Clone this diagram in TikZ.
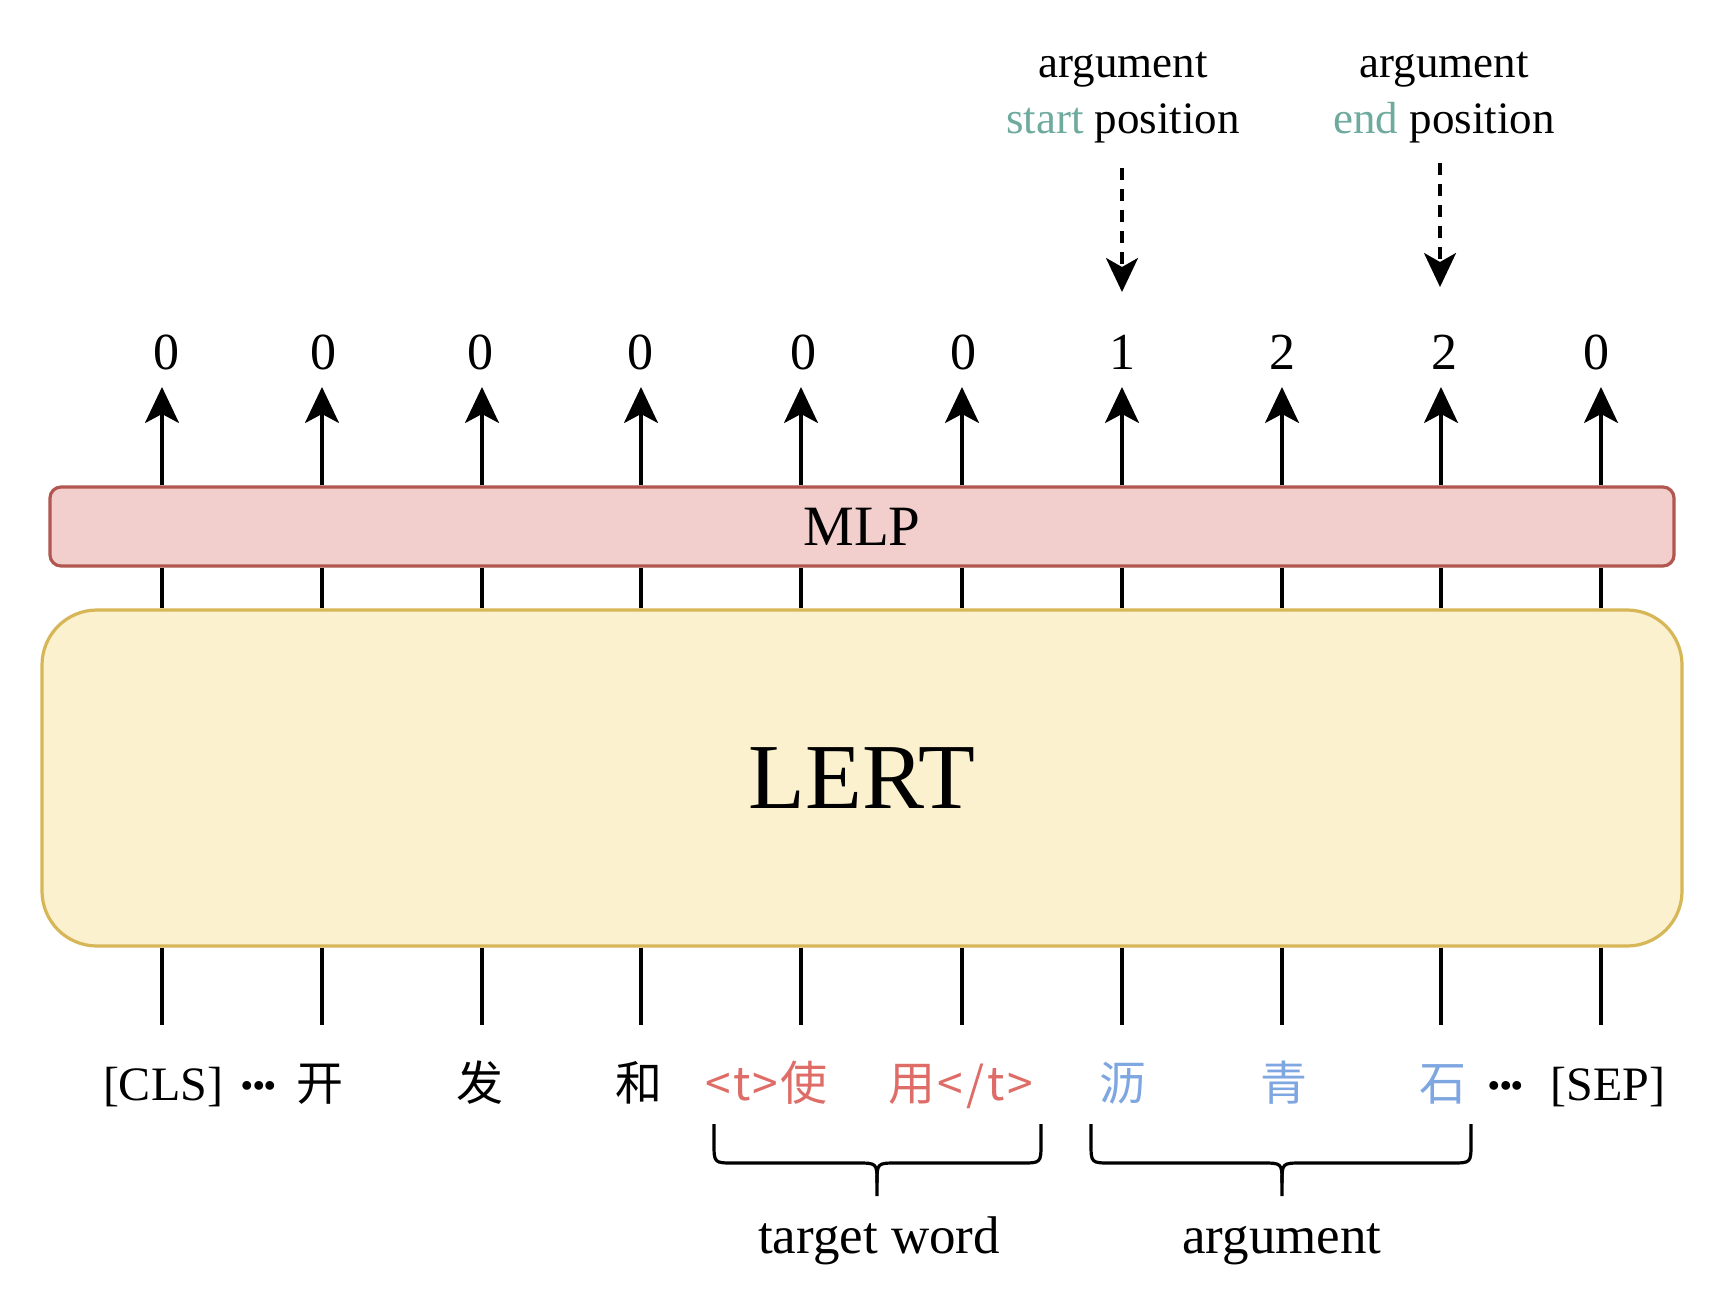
\documentclass[tikz,border=0pt]{standalone}
\usepackage{fontspec}
\setmainfont{Liberation Serif}
\newfontfamily\cjk{Noto Sans CJK SC}
\usetikzlibrary{arrows.meta}
\definecolor{tokred}{HTML}{DE6C67}
\definecolor{tokblue}{HTML}{7EA6E0}
\definecolor{posgreen}{HTML}{6FAA9E}
\definecolor{mlpfill}{HTML}{F2CFCD}
\definecolor{mlpdraw}{HTML}{B25650}
\definecolor{lertfill}{HTML}{FCF1CF}
\definecolor{lertdraw}{HTML}{D6B656}
\begin{document}
\begin{tikzpicture}[x=1pt,y=-1pt,
  ln/.style={line width=3.2pt},
  arr/.style={line width=3.2pt,-{Stealth[length=36pt,width=34pt,inset=9pt]}},
  darr/.style={line width=3.2pt,dash pattern=on 12pt off 9pt,-{Stealth[length=34pt,width=32pt,inset=9pt]}},
  numlbl/.style={inner sep=0pt,anchor=base,font=\fontsize{52}{56}\selectfont},
  toplbl/.style={inner sep=0pt,anchor=base,font=\fontsize{45}{50}\selectfont},
  tok/.style={inner sep=0pt,anchor=base,font=\fontsize{48}{54}\selectfont},
  ctok/.style={inner sep=0pt,anchor=base,font=\cjk\fontsize{47}{54}\selectfont},
  tagtok/.style={inner sep=0pt,font=\cjk\fontsize{46}{50}\selectfont},
  dotstok/.style={inner sep=0pt,anchor=center,font=\bfseries\fontsize{54}{58}\selectfont},
  botlbl/.style={inner sep=0pt,anchor=base,font=\fontsize{53}{60}\selectfont},
  brace/.style={line width=3.2pt,line join=round}]
\useasboundingbox (0,0) rectangle (1728,1288);

% boxes
\node[draw=mlpdraw,fill=mlpfill,line width=3.2pt,rounded corners=11pt,
  minimum width=1624pt,minimum height=79pt,inner sep=0pt,
  font=\fontsize{57}{60}\selectfont] (mlp) at (862,526.5) {MLP};
\node[draw=lertdraw,fill=lertfill,line width=3.2pt,rounded corners=55pt,
  minimum width=1640pt,minimum height=336pt,inner sep=0pt,
  font=\fontsize{93}{96}\selectfont] (lert) at (862,778) {LERT};

% column coordinates
\foreach \i/\x in {1/162,2/322,3/482,4/641,5/801,6/962,7/1122,8/1282,9/1441,10/1601}{
  \coordinate (a\i) at (\x,387);
  \coordinate (b\i) at (\x,1025);
  \draw[arr] (mlp.north -| a\i) -- (a\i);
  \draw[ln] (lert.north -| a\i) -- (mlp.south -| a\i);
  \draw[ln] (lert.south -| b\i) -- (b\i);
}

% output labels
\foreach \i/\x/\v in {1/166/0,2/323/0,3/480/0,4/640/0,5/803/0,6/963/0,7/1122/1,8/1282/2,9/1444/2,10/1596/0}{
  \node[numlbl] (n\i) at (\x,369) {\v};
}

% top labels
\node[toplbl] (arg1) at (1123,77) {argument};
\node[toplbl] (pos1) at (1123,133) {\textcolor{posgreen}{start} position};
\node[toplbl] (arg2) at (1444,77) {argument};
\node[toplbl] (pos2) at (1444,133) {\textcolor{posgreen}{end} position};
\coordinate (d1s) at (1122,168);
\coordinate (d1e) at (1122,292);
\coordinate (d2s) at (1440,163);
\coordinate (d2e) at (1440,287);
\draw[darr] (d1s) -- (d1e);
\draw[darr] (d2s) -- (d2e);

% tokens
\node[tok] (cls) at (163,1100) {[CLS]};
\node[dotstok] (dots1) at (259,1086) {.\kern-2pt.\kern-2pt.};
\node[ctok] (k1) at (320,1100) {开};
\node[ctok] (k2) at (480,1100) {发};
\node[ctok] (k3) at (639,1100) {和};
\node[ctok,text=tokred] (k4) at (804,1100) {使};
\node[tagtok,text=tokred,anchor=base east] (tag1) at (k4.base west) {<\kern2pt t\kern2pt>\kern2pt};
\node[ctok,text=tokred] (k5) at (912,1100) {用};
\node[tagtok,text=tokred,anchor=base west] (tag2) at (k5.base east) {\kern2pt<\kern3pt/\kern3pt t\kern3pt>};
\node[ctok,text=tokblue] (k6) at (1123,1100) {沥};
\node[ctok,text=tokblue] (k7) at (1284,1100) {青};
\node[ctok,text=tokblue] (k8) at (1443,1100) {石};
\node[dotstok] (dots2) at (1506,1086) {.\kern-2pt.\kern-2pt.};
\node[tok] (sep) at (1608,1100) {[SEP]};

% braces
\foreach \name/\xl/\xr/\xc in {tb/714/1041/877,ab/1091/1471/1282}{
  \draw[brace] (\xl,1124) -- (\xl,1143) .. controls (\xl,1163) .. (\xl+20,1163)
    -- (\xc-20,1163) .. controls (\xc,1163) .. (\xc,1183) -- (\xc,1196);
  \draw[brace] (\xr,1124) -- (\xr,1143) .. controls (\xr,1163) .. (\xr-20,1163)
    -- (\xc+20,1163) .. controls (\xc,1163) .. (\xc,1183);
}
\node[botlbl] (tw) at (879,1253) {target word};
\node[botlbl] (argl) at (1282,1253) {argument};
\end{tikzpicture}
\end{document}
